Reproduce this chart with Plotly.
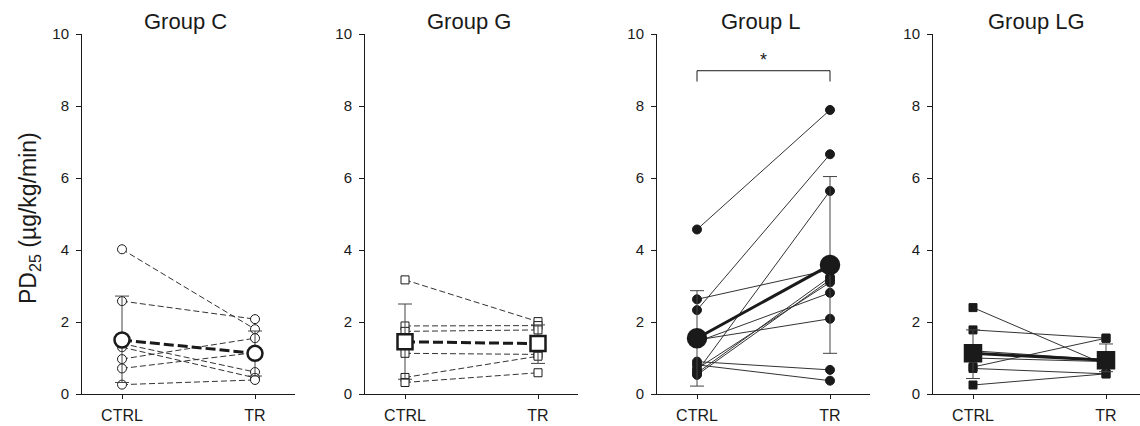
import plotly.graph_objects as go

# ---------------- data ----------------
groups = ["Group C", "Group G", "Group L", "Group LG"]
conditions = ["CTRL", "TR"]
y_ticks = [0, 2, 4, 6, 8, 10]

c_ctrl = [4.02, 2.58, 1.40, 1.30, 0.97, 0.71, 0.26]
c_tr = [1.80, 2.08, 0.61, 0.45, 1.55, 1.15, 0.39]
g_ctrl = [3.17, 1.89, 1.74, 1.13, 0.46, 0.32]
g_tr = [2.01, 1.90, 1.78, 1.10, 1.05, 0.59]
l_ctrl = [4.57, 2.33, 0.62, 2.63, 1.50, 1.45, 0.53, 0.70, 0.58, 0.90, 0.81]
l_tr = [7.89, 6.66, 5.64, 3.45, 2.09, 2.81, 3.17, 3.10, 3.25, 0.67, 0.37]
lg_ctrl = [2.40, 1.78, 0.75, 0.71, 0.25, 1.20, 1.00]
lg_tr = [0.81, 1.55, 1.55, 0.56, 0.56, 0.95, 0.90]

c_mean = [1.50, 1.13]
g_mean = [1.45, 1.40]
l_mean = [1.55, 3.58]
lg_mean = [1.13, 0.94]
c_err_plus = [1.22, 0.62]
c_err_minus = [1.18, 0.63]
g_err_plus = [1.05, 0.52]
g_err_minus = [1.04, 0.55]
l_err_plus = [1.32, 2.46]
l_err_minus = [1.33, 2.45]
lg_err_plus = [0.65, 0.45]
lg_err_minus = [0.70, 0.32]

sig_label = "*"

# ---------------- styling ----------------
W, H = 1140, 426
FONT = "Liberation Sans, Arial, sans-serif"
INK = "#1a1a1a"
x0s = [82, 365, 657, 933]
PX_PER_UNIT = 133.0
LEFT_PAD = 40.0
SPAN = 213.0
y_bottom_px, y_top_px = 394, 34

panels = [
    dict(ctrl=c_ctrl, tr=c_tr, mean=c_mean, ep=c_err_plus, em=c_err_minus,
         symbol="circle", fill="white", dash="6px,3px", mdash="10px,4px", msize=15),
    dict(ctrl=g_ctrl, tr=g_tr, mean=g_mean, ep=g_err_plus, em=g_err_minus,
         symbol="square", fill="white", dash="6px,3px", mdash="10px,4px", msize=15),
    dict(ctrl=l_ctrl, tr=l_tr, mean=l_mean, ep=l_err_plus, em=l_err_minus,
         symbol="circle", fill=INK, dash="solid", mdash="solid", msize=18),
    dict(ctrl=lg_ctrl, tr=lg_tr, mean=lg_mean, ep=lg_err_plus, em=lg_err_minus,
         symbol="square", fill=INK, dash="solid", mdash="solid", msize=16),
]

fig = go.Figure()
annotations = []
shapes = []
layout = dict(
    width=W, height=H,
    margin=dict(l=0, r=0, t=0, b=0, autoexpand=False),
    paper_bgcolor="white", plot_bgcolor="white",
    showlegend=False,
    font=dict(family=FONT, color=INK),
)

for i, (p, x0, title) in enumerate(zip(panels, x0s, groups), start=1):
    xa = "x" if i == 1 else f"x{i}"
    ya = "y" if i == 1 else f"y{i}"
    xkey = "xaxis" if i == 1 else f"xaxis{i}"
    ykey = "yaxis" if i == 1 else f"yaxis{i}"
    x_end = min(x0 + SPAN, W)
    rng = [-LEFT_PAD / PX_PER_UNIT, (x_end - x0 - LEFT_PAD) / PX_PER_UNIT]
    layout[xkey] = dict(
        domain=[x0 / W, x_end / W], range=rng, anchor=ya, automargin=False,
        showline=True, linecolor=INK, linewidth=1, showgrid=False, zeroline=False,
        ticks="outside", ticklen=4, tickcolor=INK, tickwidth=1,
        tickvals=[0, 1], ticktext=conditions,
        tickfont=dict(size=16, family=FONT, color=INK), ticklabelstandoff=3,
    )
    layout[ykey] = dict(
        domain=[(H - y_bottom_px) / H, (H - y_top_px) / H], range=[0, 10], anchor=xa,
        automargin=False,
        showline=True, linecolor=INK, linewidth=1, showgrid=False, zeroline=False,
        ticks="outside", ticklen=5, tickcolor=INK, tickwidth=1,
        tickvals=y_ticks, ticktext=[str(t) for t in y_ticks],
        tickfont=dict(size=15, family=FONT, color=INK), ticklabelstandoff=4,
    )

    # individual subjects
    xs, ys = [], []
    for a, b in zip(p["ctrl"], p["tr"]):
        xs += [0, 1, None]
        ys += [a, b, None]
    fig.add_trace(go.Scatter(
        x=xs, y=ys, xaxis=xa, yaxis=ya, mode="lines+markers",
        line=dict(color="#333333", width=1, dash=p["dash"]),
        marker=dict(symbol=p["symbol"], size=8 if p["symbol"] == "square" else 9,
                    color=p["fill"], line=dict(color=INK, width=1)),
        cliponaxis=False,
    ))
    # mean with error bars
    fig.add_trace(go.Scatter(
        x=[0, 1], y=p["mean"], xaxis=xa, yaxis=ya, mode="lines+markers",
        line=dict(color=INK, width=3, dash=p["mdash"]),
        marker=dict(symbol=p["symbol"], size=p["msize"],
                    color=p["fill"], line=dict(color=INK, width=2.5)),
        error_y=dict(type="data", array=p["ep"], arrayminus=p["em"], symmetric=False,
                     color="#444444", thickness=1, width=7),
        cliponaxis=False,
    ))

    annotations.append(dict(
        text=title, xref=xa, yref="paper", x=0.48, y=(H - 22) / H,
        xanchor="center", yanchor="middle", showarrow=False,
        font=dict(size=22, family=FONT, color=INK),
    ))

# significance bracket for Group L
shapes.append(dict(
    type="path", xref="x3", yref="y3",
    path="M 0,8.68 L 0,8.98 L 1,8.98 L 1,8.68",
    line=dict(color=INK, width=1),
))
annotations.append(dict(
    text=sig_label, xref="x3", yref="y3", x=0.5, y=9.28,
    xanchor="center", yanchor="middle", showarrow=False,
    font=dict(size=18, family=FONT, color=INK),
))

# y-axis title
annotations.append(dict(
    text="PD<sub>25</sub> (µg/kg/min)", xref="paper", yref="paper",
    x=29 / W, y=(H - 218) / H, xanchor="center", yanchor="middle",
    textangle=-90, showarrow=False,
    font=dict(size=23, family=FONT, color=INK),
))

layout["annotations"] = annotations
layout["shapes"] = shapes
fig.update_layout(**layout)
fig.write_html("out.html")
